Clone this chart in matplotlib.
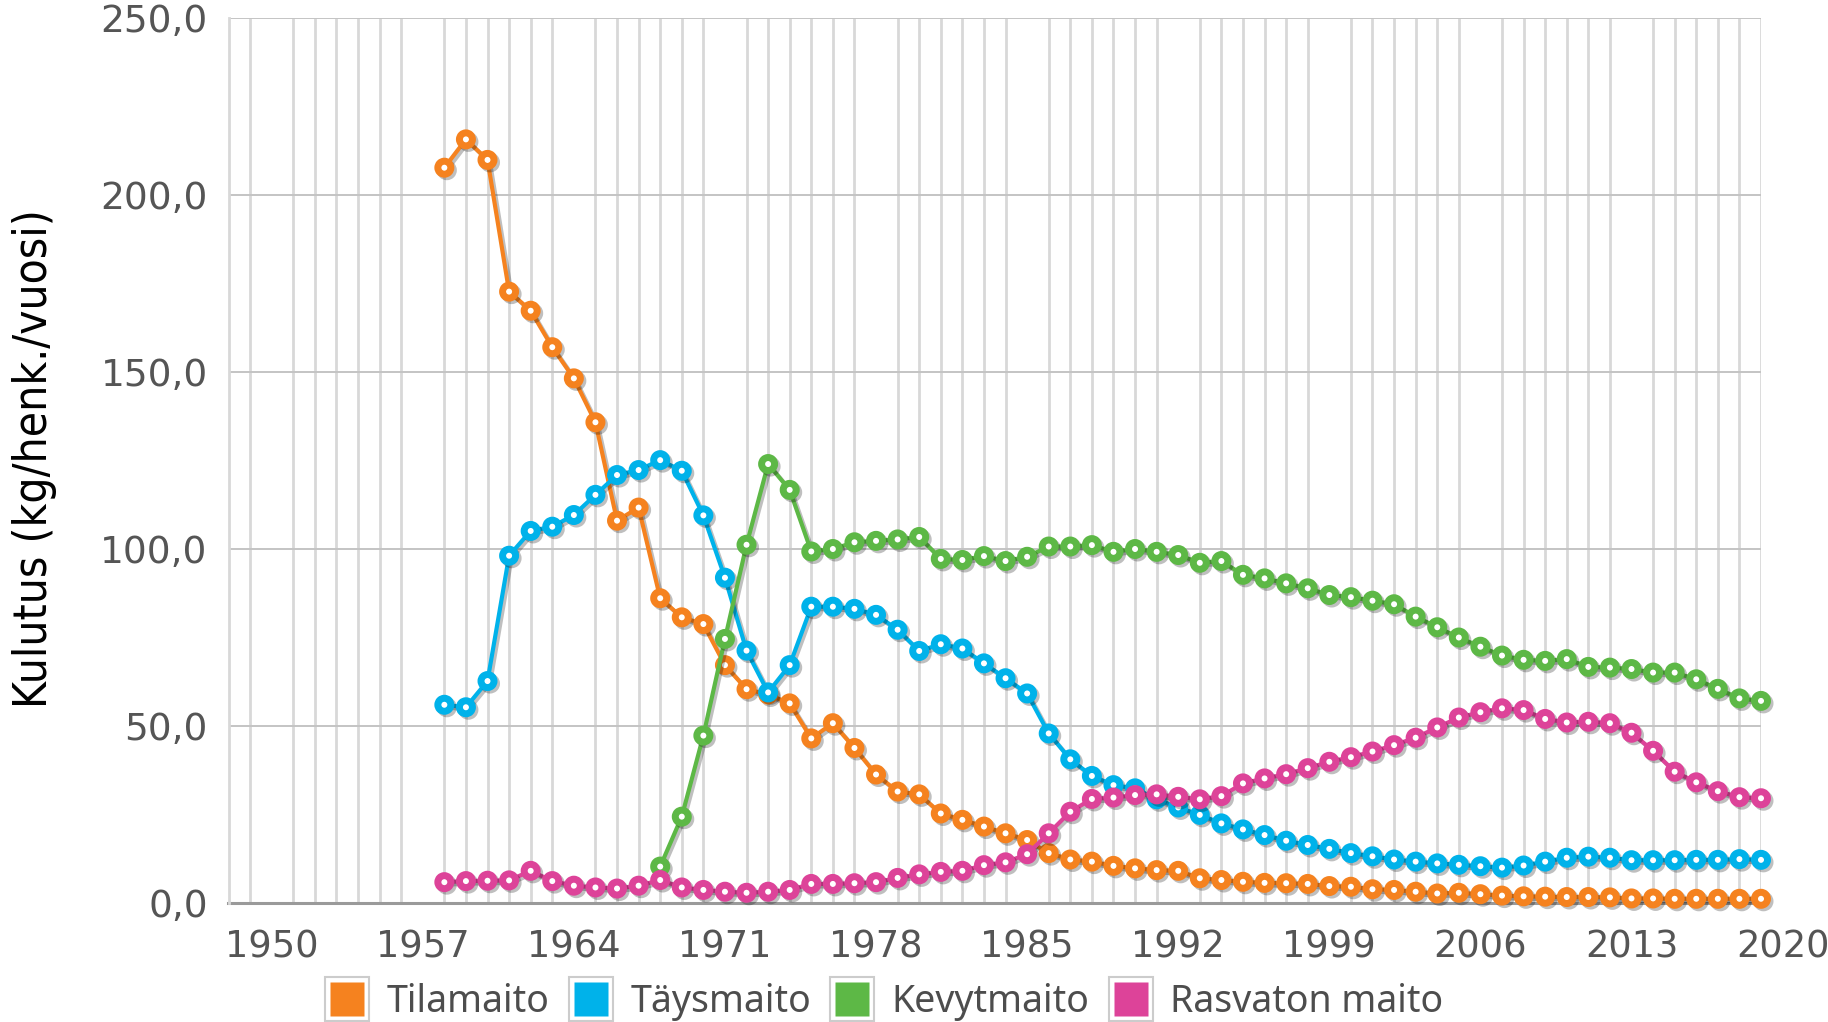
import numpy as np
import matplotlib
matplotlib.use("Agg")
import matplotlib.pyplot as plt
from matplotlib.ticker import FixedLocator, MultipleLocator, FuncFormatter
from matplotlib.lines import Line2D
from matplotlib.legend_handler import HandlerTuple
import matplotlib.patheffects as pe

plt.rcParams["font.family"] = ["DejaVu Sans"]

years = list(range(1958, 2020))

tilamaito = [207.8, 215.8, 210.0, 172.8, 167.4, 157.1, 148.3, 135.9, 108.1, 111.8,
             86.2, 80.8, 78.9, 67.3, 60.5, 59.0, 56.5, 46.6, 50.9, 43.9,
             36.4, 31.6, 30.8, 25.4, 23.6, 21.7, 19.8, 17.9, 14.2, 12.4,
             11.8, 10.6, 9.9, 9.4, 9.2, 7.1, 6.6, 6.1, 5.8, 5.7,
             5.5, 4.9, 4.7, 4.0, 3.8, 3.3, 2.8, 3.0, 2.6, 2.2,
             2.0, 1.9, 1.8, 1.8, 1.7, 1.4, 1.4, 1.3, 1.3, 1.3,
             1.3, 1.3]

taysmaito = [56.1, 55.4, 62.8, 98.2, 105.2, 106.4, 109.7, 115.4, 121.0, 122.4,
             125.2, 122.2, 109.6, 92.0, 71.4, 59.6, 67.3, 83.8, 83.8, 83.2,
             81.5, 77.3, 71.3, 73.2, 72.0, 67.8, 63.6, 59.3, 48.0, 40.7,
             36.0, 33.4, 32.5, 29.4, 27.1, 25.0, 22.6, 20.9, 19.3, 17.7,
             16.5, 15.4, 14.2, 13.3, 12.4, 11.8, 11.3, 10.9, 10.5, 10.1,
             10.7, 11.8, 12.9, 13.2, 12.9, 12.2, 12.2, 12.2, 12.3, 12.3,
             12.5, 12.3]

kevytmaito = [None, None, None, None, None, None, None, None, None, None,
              10.4, 24.5, 47.4, 74.7, 101.3, 124.1, 116.8, 99.4, 100.1, 102.0,
              102.4, 102.8, 103.5, 97.3, 97.0, 98.1, 96.7, 97.9, 100.8, 100.8,
              101.2, 99.3, 100.1, 99.3, 98.4, 96.2, 96.7, 92.8, 91.8, 90.4,
              89.0, 87.1, 86.5, 85.5, 84.5, 81.0, 78.0, 75.1, 72.5, 70.0,
              68.8, 68.5, 69.0, 66.8, 66.6, 66.2, 65.2, 65.2, 63.3, 60.6,
              57.9, 57.2]

rasvaton = [6.0, 6.3, 6.4, 6.5, 9.2, 6.3, 5.0, 4.5, 4.2, 5.0,
            6.6, 4.5, 3.8, 3.3, 3.0, 3.3, 3.8, 5.5, 5.5, 5.7,
            6.0, 7.2, 8.2, 8.9, 9.2, 10.8, 11.6, 13.9, 19.8, 25.9,
            29.5, 29.9, 30.6, 30.8, 30.1, 29.4, 30.3, 33.9, 35.3, 36.5,
            38.2, 40.0, 41.3, 42.9, 44.7, 46.8, 49.7, 52.5, 54.0, 55.1,
            54.6, 52.1, 51.1, 51.3, 50.9, 48.2, 43.1, 37.2, 34.2, 31.7,
            30.0, 29.7]

series_names = ["Tilamaito", "Täysmaito", "Kevytmaito", "Rasvaton maito"]
series_values = [tilamaito, taysmaito, kevytmaito, rasvaton]
colors = ["#F5821F", "#00B2EA", "#5DB846", "#DD4399"]

x_tick_years = [1950, 1957, 1964, 1971, 1978, 1985, 1992, 1999, 2006, 2013, 2020]
y_ticks = [0, 50, 100, 150, 200, 250]

W, H = 1828, 1022
fig = plt.figure(figsize=(W / 100, H / 100), dpi=100)
left, right, top, bottom = 228.5, 1761, 18.3, 903.4
ax = fig.add_axes([left / W, 1 - bottom / H, (right - left) / W, (bottom - top) / H])

ax.set_xlim(1948, 2019)
ax.set_ylim(0, 250)

# grid
ax.xaxis.set_minor_locator(MultipleLocator(1))
ax.grid(which="minor", axis="x", color="#d8d8d8", linewidth=2.0, zorder=0)
ax.yaxis.set_major_locator(FixedLocator(y_ticks))
ax.grid(which="major", axis="y", color="#c4c4c4", linewidth=1.4, zorder=0)
ax.set_axisbelow(True)

in_range = [t for t in x_tick_years if t <= 2019]
ax.xaxis.set_major_locator(FixedLocator(in_range))
ax.tick_params(axis="x", which="both", length=0, pad=18, labelsize=26.5, labelcolor="#555555")
ax.tick_params(axis="y", which="both", length=0, pad=15, labelsize=27, labelcolor="#555555")
ax.yaxis.set_major_formatter(FuncFormatter(lambda v, p: f"{v:.1f}".replace(".", ",")))
for lab in ax.get_xticklabels() + ax.get_yticklabels():
    lab.set_family("DejaVu Sans")

# tick labels beyond the plotted range (e.g. 2020)
for t in x_tick_years:
    if t > 2019:
        ax.annotate(str(t), xy=(t, 0), xycoords=("data", "axes fraction"),
                    xytext=(0, -18), textcoords="offset points",
                    ha="center", va="top", fontsize=26.5, color="#555555",
                    family="DejaVu Sans", annotation_clip=False)

for s in ["top", "right"]:
    ax.spines[s].set_visible(False)
ax.spines["left"].set_color("#d8d8d8")
ax.spines["left"].set_linewidth(2.0)
ax.spines["bottom"].set_color("#9a9a9a")
ax.spines["bottom"].set_linewidth(2.2)
ax.spines["bottom"].set_zorder(1)

shadow = [pe.SimpleLineShadow(offset=(1.8, -1.8), shadow_color="black", alpha=0.25), pe.Normal()]

yrs = np.array(years, dtype=float)
for name, vals, c in zip(series_names, series_values, colors):
    v = np.array([np.nan if a is None else a for a in vals], dtype=float)
    ax.plot(yrs, v, color=c, linewidth=3.0, marker="o", markersize=9.4,
            markerfacecolor="white", markeredgecolor=c, markeredgewidth=5.0,
            clip_on=False, zorder=3, path_effects=shadow)

# y label
fig.text(35 / W, 1 - 459 / H, "Kulutus (kg/henk./vuosi)", rotation=90,
         ha="center", va="center", fontsize=33, color="black",
         family="DejaVu Sans", fontstretch="condensed")

# legend
handles = []
for c in colors:
    outer = Line2D([], [], linestyle="none", marker="s", markersize=31,
                   markerfacecolor="white", markeredgecolor="#cccccc", markeredgewidth=1.5)
    inner = Line2D([], [], linestyle="none", marker="s", markersize=25,
                   markerfacecolor=c, markeredgecolor="none")
    handles.append((outer, inner))
leg = fig.legend(handles, series_names, loc="center", bbox_to_anchor=(884 / W, 1 - 1002 / H),
                 ncol=4, frameon=False, handler_map={tuple: HandlerTuple(ndivide=1, pad=0)},
                 prop={"family": "Noto Sans", "size": 27}, handlelength=1.2,
                 handletextpad=0.45, columnspacing=0.5, borderpad=0, borderaxespad=0)
for t in leg.get_texts():
    t.set_color("#4d4d4d")

fig.savefig("out.png", dpi=100)
